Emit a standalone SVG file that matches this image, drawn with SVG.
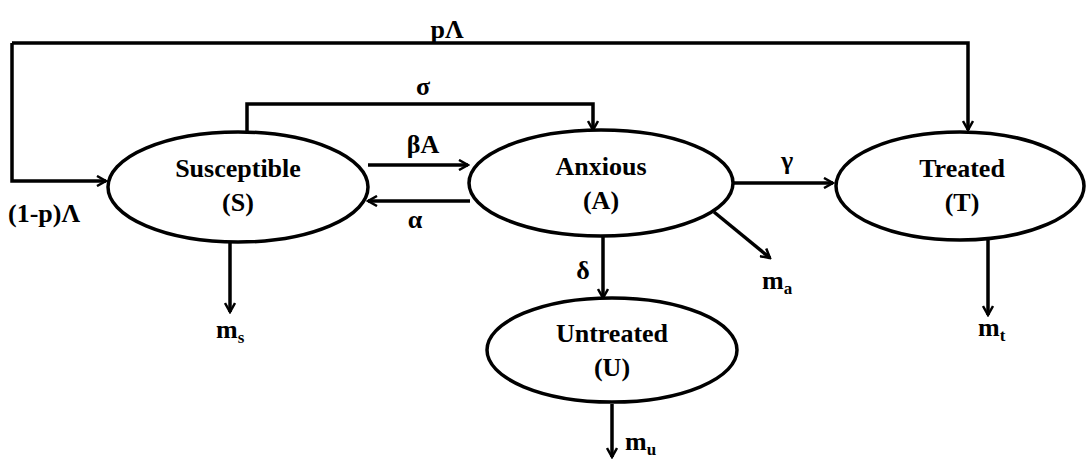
<svg xmlns="http://www.w3.org/2000/svg" width="1086" height="459" viewBox="0 0 1086 459">
<defs>
<style>
.n{fill:#fff;stroke:#000;stroke-width:3.5}
.c{fill:none;stroke:#000;stroke-width:3.5;marker-end:url(#a)}
text{font-family:"Liberation Serif","Times New Roman",serif;font-weight:bold;font-size:26px;fill:#000}
.t{text-anchor:middle}
.s{font-size:17px}
</style>
<marker id="a" viewBox="0 0 12 12" refX="10" refY="6" markerWidth="12" markerHeight="12" markerUnits="userSpaceOnUse" orient="auto">
<path d="M1,1 L10,6 L1,11" fill="none" stroke="#000" stroke-width="2.5"/>
</marker>
</defs>
<rect width="1086" height="459" fill="#fff"/>
<g id="connectors">
<path class="c" d="M12,43 H968 V130"/>
<path class="c" d="M12,43 V181 H106"/>
<path class="c" d="M247,133 V104 H593 V130"/>
<path class="c" d="M368,165 H468"/>
<path class="c" d="M470,201 H368"/>
<path class="c" d="M734,183 H833"/>
<path class="c" d="M714,212 L770,258"/>
<path class="c" d="M603,237 V298"/>
<path class="c" d="M230,242 V312"/>
<path class="c" d="M988,240 V315"/>
<path class="c" d="M612,404 V457"/>
<text class="t" x="447" y="38">pΛ</text>
<text class="t" x="423" y="95">σ</text>
<text class="t" x="423" y="153">βA</text>
<text class="t" x="415" y="228">α</text>
<text x="8" y="222">(1-p)Λ</text>
<text class="t" x="787" y="169">γ</text>
<text class="t" x="583" y="279">δ</text>
<text x="216" y="338">m<tspan class="s" dy="5">s</tspan></text>
<text x="762" y="289">m<tspan class="s" dy="5">a</tspan></text>
<text x="978" y="336">m<tspan class="s" dy="5">t</tspan></text>
<text x="625" y="450">m<tspan class="s" dy="5">u</tspan></text>
</g>
<g id="susceptible">
<ellipse class="n" cx="238" cy="187" rx="130" ry="55"/>
<text class="t" x="238" y="177">Susceptible</text>
<text class="t" x="238" y="211">(S)</text>
</g>
<g id="anxious">
<ellipse class="n" cx="601" cy="183" rx="132" ry="53"/>
<text class="t" x="601" y="175">Anxious</text>
<text class="t" x="601" y="209">(A)</text>
</g>
<g id="treated">
<ellipse class="n" cx="960" cy="186" rx="124" ry="54"/>
<text class="t" x="962" y="177">Treated</text>
<text class="t" x="962" y="211">(T)</text>
</g>
<g id="untreated">
<ellipse class="n" cx="612" cy="350" rx="125" ry="52"/>
<text class="t" x="612" y="342">Untreated</text>
<text class="t" x="612" y="376">(U)</text>
</g>
</svg>
